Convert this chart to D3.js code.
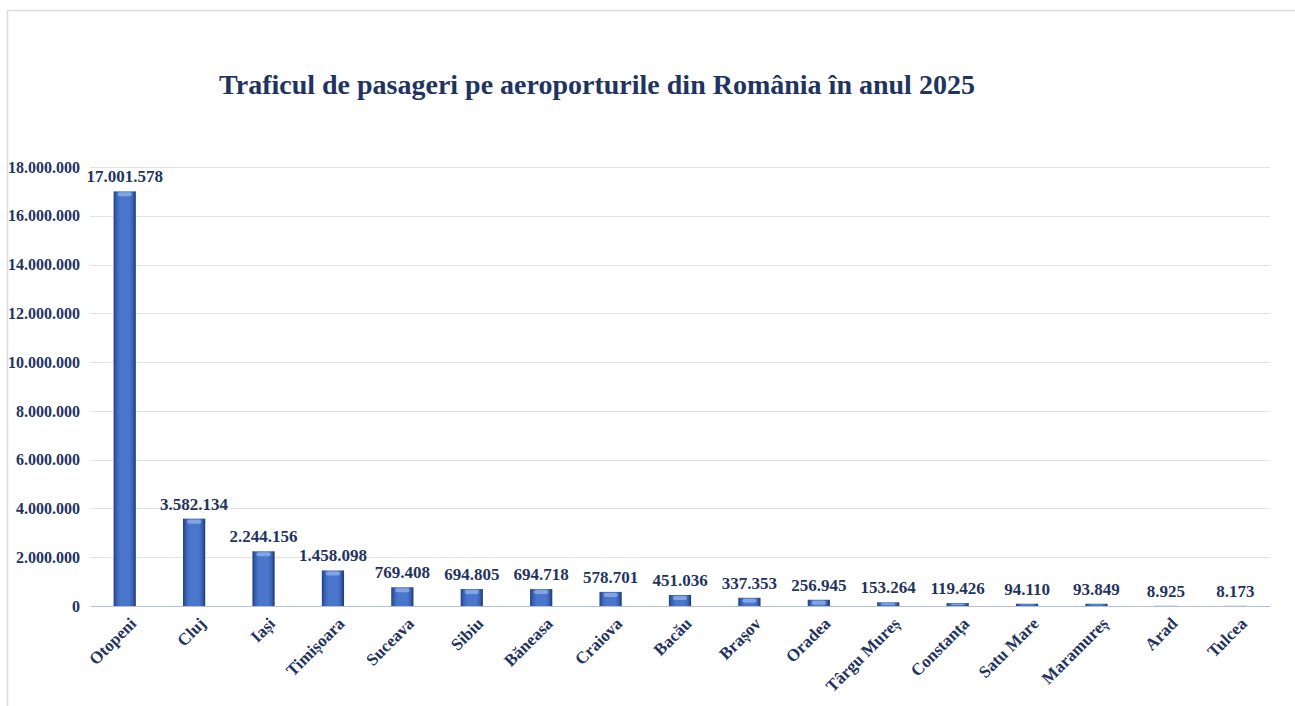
<!DOCTYPE html>
<html>
<head>
<meta charset="utf-8">
<script src="https://cdn.jsdelivr.net/npm/d3@7"></script>
<style>
  body { margin: 0; background: #fff; }
  svg text { font-family: "Liberation Serif", "Times New Roman", serif; font-weight: bold; }
</style>
</head>
<body>
<div id="chart"></div>
<script>
// data
var airports = ["Otopeni", "Cluj", "Iași", "Timișoara", "Suceava", "Sibiu", "Băneasa", "Craiova",
  "Bacău", "Brașov", "Oradea", "Târgu Mureș", "Constanța", "Satu Mare", "Maramureș", "Arad", "Tulcea"];
var passengers = [17001578, 3582134, 2244156, 1458098, 769408, 694805, 694718, 578701,
  451036, 337353, 256945, 153264, 119426, 94110, 93849, 8925, 8173];
var yTicks = [0, 2000000, 4000000, 6000000, 8000000, 10000000, 12000000, 14000000, 16000000, 18000000];
var title = "Traficul de pasageri pe aeroporturile din România în anul 2025";

var width = 1295, height = 706;
var margin = {top: 167, right: 25, bottom: 100, left: 90};
var innerW = width - margin.left - margin.right,
    innerH = height - margin.top - margin.bottom;

var fmt = function(v) { return d3.format(",")(v).replace(/,/g, "."); };
var navy = "#1f3460";

var svg = d3.select("#chart").append("svg")
  .attr("width", width)
  .attr("height", height);

// outer frame
svg.append("path")
  .attr("d", "M7.5," + height + "V10.5H" + width)
  .attr("fill", "none")
  .attr("stroke", "#dcdcdc")
  .attr("stroke-width", 1.5);

var defs = svg.append("defs");
var grad = defs.append("linearGradient").attr("id", "barGrad")
  .attr("x1", "0").attr("x2", "1").attr("y1", "0").attr("y2", "0");
grad.append("stop").attr("offset", "0%").attr("stop-color", "#213f80");
grad.append("stop").attr("offset", "14%").attr("stop-color", "#3a63b4");
grad.append("stop").attr("offset", "30%").attr("stop-color", "#4a77cc");
grad.append("stop").attr("offset", "70%").attr("stop-color", "#4a77cc");
grad.append("stop").attr("offset", "86%").attr("stop-color", "#3a63b4");
grad.append("stop").attr("offset", "100%").attr("stop-color", "#1d3670");

svg.append("text")
  .attr("x", 597)
  .attr("y", 94)
  .attr("text-anchor", "middle")
  .attr("fill", navy)
  .style("font-size", "28px")
  .text(title);

var g = svg.append("g")
  .attr("transform", "translate(" + margin.left + "," + margin.top + ")");

var x = d3.scaleBand()
  .domain(airports)
  .range([0, innerW])
  .paddingInner(0.68)
  .paddingOuter(0.34);

var y = d3.scaleLinear()
  .domain([0, 18000000])
  .range([innerH, 0]);

// gridlines
g.append("g")
  .selectAll("line")
  .data(yTicks.filter(function(d) { return d > 0; }))
  .enter().append("line")
    .attr("x1", 0).attr("x2", innerW)
    .attr("y1", function(d) { return Math.round(y(d)) + 0.5; })
    .attr("y2", function(d) { return Math.round(y(d)) + 0.5; })
    .attr("stroke", "#e3e3e3");

// y axis labels
var yAxis = d3.axisLeft(y).tickValues(yTicks).tickFormat(fmt).tickSize(0).tickPadding(10);
var ya = g.append("g").call(yAxis);
ya.select(".domain").remove();
ya.selectAll("text")
  .attr("fill", navy)
  .style("font-size", "16px");

// bars
var bars = g.selectAll(".bar")
  .data(passengers)
  .enter().append("g")
  .attr("class", "bar");

bars.append("rect")
  .attr("x", function(d, i) { return x(airports[i]); })
  .attr("y", function(d) { return y(d); })
  .attr("width", x.bandwidth())
  .attr("height", function(d) { return innerH - y(d); })
  .attr("fill", "url(#barGrad)");

// top bevel highlight
bars.append("rect")
  .attr("x", function(d, i) { return x(airports[i]) + 4; })
  .attr("y", function(d) { return y(d) + 1; })
  .attr("width", x.bandwidth() - 8)
  .attr("height", function(d) { return Math.min(4, Math.max(0, innerH - y(d) - 2)); })
  .attr("rx", 2)
  .attr("fill", "#8fb0ea")
  .attr("opacity", 0.8);

// value labels
g.selectAll(".val")
  .data(passengers)
  .enter().append("text")
  .attr("class", "val")
  .attr("x", function(d, i) { return x(airports[i]) + x.bandwidth() / 2; })
  .attr("y", function(d) { return y(d) - 9; })
  .attr("text-anchor", "middle")
  .attr("fill", navy)
  .style("font-size", "17px")
  .text(fmt);

// x axis
var xAxis = d3.axisBottom(x).tickSize(0).tickPadding(10);
var xa = g.append("g")
  .attr("transform", "translate(0," + innerH + ")")
  .call(xAxis);
xa.select(".domain").attr("stroke", "#b4c0d8");
xa.selectAll("text")
  .attr("fill", navy)
  .style("font-size", "17px")
  .style("text-anchor", "end")
  .attr("dy", "0.3em")
  .attr("transform", "translate(2,8) rotate(-45)");
</script>
</body>
</html>
